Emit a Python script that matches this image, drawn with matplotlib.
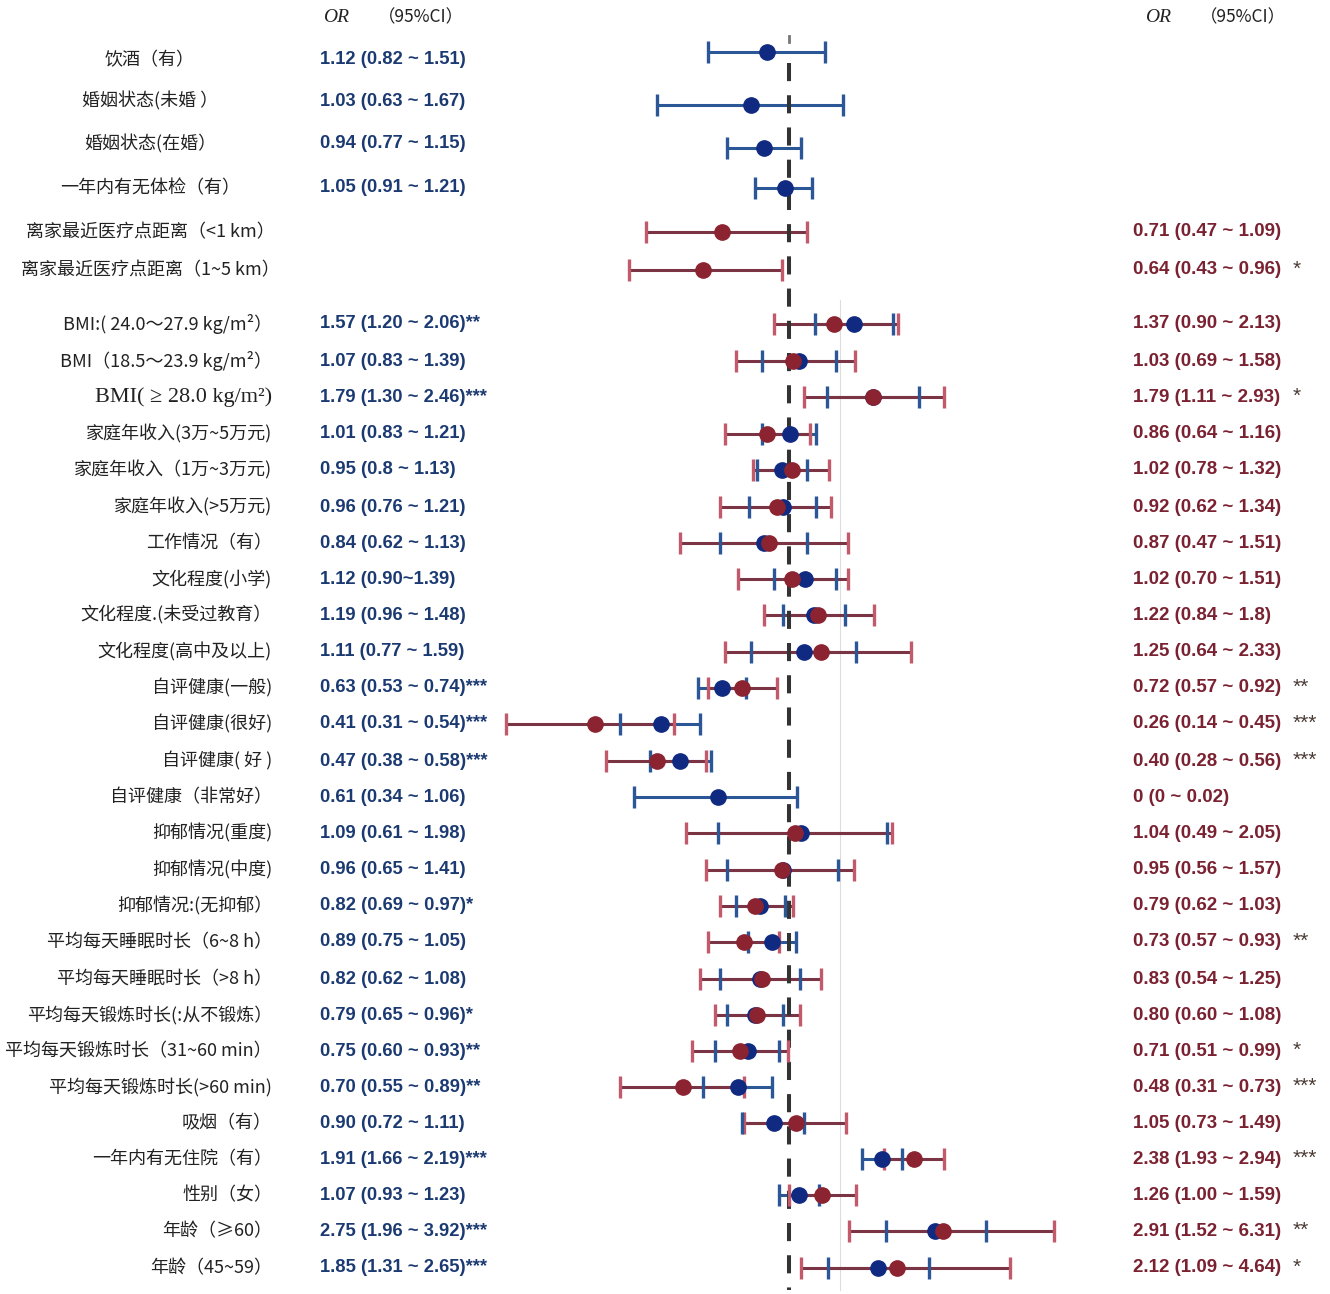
import numpy as np
import matplotlib
matplotlib.use('Agg')
import matplotlib.pyplot as plt

nan = np.nan

# ---- data ----
labels = [
    '饮酒（有）', '婚姻状态(未婚 ）', '婚姻状态(在婚）', '一年内有无体检（有）',
    '离家最近医疗点距离（<1 km）', '离家最近医疗点距离（1~5 km）',
    'BMI:( 24.0～27.9 kg/m²）', 'BMI（18.5～23.9 kg/m²）', 'BMI( ≥ 28.0 kg/m²)',
    '家庭年收入(3万~5万元)', '家庭年收入（1万~3万元)', '家庭年收入(>5万元)',
    '工作情况（有）', '文化程度(小学)', '文化程度.(未受过教育）', '文化程度(高中及以上)',
    '自评健康(一般)', '自评健康(很好)', '自评健康( 好 )', '自评健康（非常好）',
    '抑郁情况(重度)', '抑郁情况(中度)', '抑郁情况:(无抑郁）',
    '平均每天睡眠时长（6~8 h）', '平均每天睡眠时长（>8 h）',
    '平均每天锻炼时长(:从不锻炼）', '平均每天锻炼时长（31~60 min）', '平均每天锻炼时长(>60 min)',
    '吸烟（有）', '一年内有无住院（有）', '性别（女）', '年龄（≥60）', '年龄（45~59）',
]

blue_text = [
    '1.12 (0.82 ~ 1.51)', '1.03 (0.63 ~ 1.67)', '0.94 (0.77 ~ 1.15)', '1.05 (0.91 ~ 1.21)',
    '', '',
    '1.57 (1.20 ~ 2.06)**', '1.07 (0.83 ~ 1.39)', '1.79 (1.30 ~ 2.46)***',
    '1.01 (0.83 ~ 1.21)', '0.95 (0.8 ~ 1.13)', '0.96 (0.76 ~ 1.21)',
    '0.84 (0.62 ~ 1.13)', '1.12 (0.90~1.39)', '1.19 (0.96 ~ 1.48)', '1.11 (0.77 ~ 1.59)',
    '0.63 (0.53 ~ 0.74)***', '0.41 (0.31 ~ 0.54)***', '0.47 (0.38 ~ 0.58)***', '0.61 (0.34 ~ 1.06)',
    '1.09 (0.61 ~ 1.98)', '0.96 (0.65 ~ 1.41)', '0.82 (0.69 ~ 0.97)*',
    '0.89 (0.75 ~ 1.05)', '0.82 (0.62 ~ 1.08)',
    '0.79 (0.65 ~ 0.96)*', '0.75 (0.60 ~ 0.93)**', '0.70 (0.55 ~ 0.89)**',
    '0.90 (0.72 ~ 1.11)', '1.91 (1.66 ~ 2.19)***', '1.07 (0.93 ~ 1.23)',
    '2.75 (1.96 ~ 3.92)***', '1.85 (1.31 ~ 2.65)***',
]

red_text = [
    '', '', '', '',
    '0.71 (0.47 ~ 1.09)', '0.64 (0.43 ~ 0.96)',
    '1.37 (0.90 ~ 2.13)', '1.03 (0.69 ~ 1.58)', '1.79 (1.11 ~ 2.93)',
    '0.86 (0.64 ~ 1.16)', '1.02 (0.78 ~ 1.32)', '0.92 (0.62 ~ 1.34)',
    '0.87 (0.47 ~ 1.51)', '1.02 (0.70 ~ 1.51)', '1.22 (0.84 ~ 1.8)', '1.25 (0.64 ~ 2.33)',
    '0.72 (0.57 ~ 0.92)', '0.26 (0.14 ~ 0.45)', '0.40 (0.28 ~ 0.56)', '0 (0 ~ 0.02)',
    '1.04 (0.49 ~ 2.05)', '0.95 (0.56 ~ 1.57)', '0.79 (0.62 ~ 1.03)',
    '0.73 (0.57 ~ 0.93)', '0.83 (0.54 ~ 1.25)',
    '0.80 (0.60 ~ 1.08)', '0.71 (0.51 ~ 0.99)', '0.48 (0.31 ~ 0.73)',
    '1.05 (0.73 ~ 1.49)', '2.38 (1.93 ~ 2.94)', '1.26 (1.00 ~ 1.59)',
    '2.91 (1.52 ~ 6.31)', '2.12 (1.09 ~ 4.64)',
]
red_stars = [
    '', '', '', '', '', '*', '', '', '*', '', '', '', '', '', '', '',
    '**', '***', '***', '', '', '', '', '**', '', '', '*', '***', '', '***', '', '**', '*',
]

# plotted estimates as drawn in the figure (log axis)
blue_or = [0.86, 0.77, 0.84, 0.97, nan, nan, 1.57, 1.07, 1.79, 1.01, 0.95, 0.96, 0.84, 1.12, 1.19, 1.11,
           0.63, 0.41, 0.47, 0.61, 1.09, 0.96, 0.82, 0.89, 0.82, 0.79, 0.75, 0.70, 0.90, 1.91, 1.07, 2.75, 1.85]
blue_lo = [0.57, 0.40, 0.65, 0.79, nan, nan, 1.20, 0.83, 1.30, 0.83, 0.80, 0.76, 0.62, 0.90, 0.96, 0.77,
           0.53, 0.31, 0.38, 0.34, 0.61, 0.65, 0.69, 0.75, 0.62, 0.65, 0.60, 0.55, 0.72, 1.66, 0.93, 1.96, 1.31]
blue_hi = [1.28, 1.46, 1.09, 1.17, nan, nan, 2.06, 1.39, 2.46, 1.21, 1.13, 1.21, 1.13, 1.39, 1.48, 1.59,
           0.74, 0.54, 0.58, 1.06, 1.98, 1.41, 0.97, 1.05, 1.08, 0.96, 0.93, 0.89, 1.11, 2.19, 1.23, 3.92, 2.65]

red_or = [nan, nan, nan, nan, 0.63, 0.55, 1.37, 1.03, 1.79, 0.86, 1.02, 0.92, 0.87, 1.02, 1.22, 1.25,
          0.72, 0.26, 0.40, nan, 1.04, 0.95, 0.79, 0.73, 0.83, 0.80, 0.71, 0.48, 1.05, 2.38, 1.26, 2.91, 2.12]
red_lo = [nan, nan, nan, nan, 0.37, 0.33, 0.90, 0.69, 1.11, 0.64, 0.78, 0.62, 0.47, 0.70, 0.84, 0.64,
          0.57, 0.14, 0.28, nan, 0.49, 0.56, 0.62, 0.57, 0.54, 0.60, 0.51, 0.31, 0.73, 1.93, 1.00, 1.52, 1.09]
red_hi = [nan, nan, nan, nan, 1.13, 0.95, 2.13, 1.58, 2.93, 1.16, 1.32, 1.34, 1.51, 1.51, 1.80, 2.33,
          0.92, 0.45, 0.56, nan, 2.05, 1.57, 1.03, 0.93, 1.25, 1.08, 0.99, 0.73, 1.49, 2.94, 1.59, 6.31, 4.64]

# ---- layout (pixels) ----
W, H = 1330, 1294
row_y = [60, 101, 144, 188, 232, 270, 324, 361, 397, 434, 470, 507, 543, 579, 615, 652, 688, 724,
         761, 797, 833, 870, 906, 942, 979, 1015, 1051, 1087, 1123, 1159, 1195, 1231, 1268]
mark_y = list(row_y)
mark_y[0], mark_y[1], mark_y[2] = 52, 105, 148

ONE_PX = 789.0      # pixel column of OR = 1
PX_PER_LN = 144.0   # pixels per unit of ln(OR)
FX0, FX1 = 440, 1120

BLUE_TXT = '#1b3a72'
RED_TXT = '#7a2231'
BLUE_LINE = '#2b5797'
BLUE_DOT = '#0f2a80'
RED_LINE = '#7b3443'
RED_CAP = '#c25a6c'
RED_DOT = '#8b2330'

cjk = ['Noto Sans CJK SC', 'DejaVu Sans']
num = ['Liberation Sans', 'DejaVu Sans']
serif = ['Liberation Serif', 'Noto Sans CJK SC']

fig = plt.figure(figsize=(W / 100, H / 100), dpi=100)
bg = fig.add_axes([0, 0, 1, 1])
bg.set_xlim(0, W)
bg.set_ylim(H, 0)
bg.axis('off')

ax = fig.add_axes([FX0 / W, 0, (FX1 - FX0) / W, 1])
ax.set_xscale('log')
ax.set_xlim(np.exp((FX0 - ONE_PX) / PX_PER_LN), np.exp((FX1 - ONE_PX) / PX_PER_LN))
ax.set_ylim(H, 0)
ax.axis('off')

# faint background rule
bg.plot([840, 840], [300, 1290], color='#dddddd', lw=0.8, zorder=0)

# headers
for hx in (323, 1145):
    bg.text(hx, 17, 'OR', family=serif, style='italic', fontsize=14, va='center', color='#222222')
    bg.text(hx + 55, 17, '（95%CI）', family=cjk, fontsize=12.5, va='center', color='#222222')

# row labels and OR text
for i, lab in enumerate(labels):
    y = row_y[i]
    is_serif = lab.startswith('BMI( ')
    fam = serif if is_serif else cjk
    fs = 16 if is_serif else 13
    if i < 6:
        bg.text(150, y, lab, family=fam, fontsize=fs, ha='center', va='center', color='#222222')
    else:
        bg.text(272, y, lab, family=fam, fontsize=fs, ha='right', va='center', color='#222222')
    if blue_text[i]:
        bg.text(320, y, blue_text[i], family=num, fontsize=13.2, fontweight='bold',
                ha='left', va='center', color=BLUE_TXT)
    if red_text[i]:
        bg.text(1133, y, red_text[i], family=num, fontsize=13.5, fontweight='bold',
                ha='left', va='center', color=RED_TXT)
    if red_stars[i]:
        bg.text(1293, y - 1, red_stars[i], family=num, fontsize=15,
                ha='left', va='center', color='#4a3a34')

# reference line at OR = 1
ax.plot([1, 1], [63, 1290], color='#333333', lw=2.9, linestyle=(0, (4.5, 3.5)), zorder=3,
        solid_capstyle='butt', dash_capstyle='butt')
ax.plot([1, 1], [36, 42], color='#777777', lw=2.0, zorder=3)

# confidence intervals
ax.hlines(mark_y, blue_lo, blue_hi, color=BLUE_LINE, lw=2.2, zorder=2)
ax.hlines(mark_y, red_lo, red_hi, color=RED_LINE, lw=2.2, zorder=2.5)
ax.plot(red_lo, mark_y, '|', color=RED_CAP, ms=16, mew=2.4, zorder=3.5)
ax.plot(red_hi, mark_y, '|', color=RED_CAP, ms=16, mew=2.4, zorder=3.5)
ax.plot(blue_lo, mark_y, '|', color=BLUE_LINE, ms=16, mew=2.4, zorder=4)
ax.plot(blue_hi, mark_y, '|', color=BLUE_LINE, ms=16, mew=2.4, zorder=4)

# point estimates
ax.plot(blue_or, mark_y, 'o', color=BLUE_DOT, ms=11, mec=BLUE_DOT, zorder=5)
ax.plot(red_or, mark_y, 'o', color=RED_DOT, ms=11, mec=RED_DOT, zorder=6)

fig.savefig('out.png', dpi=100, facecolor='white')
